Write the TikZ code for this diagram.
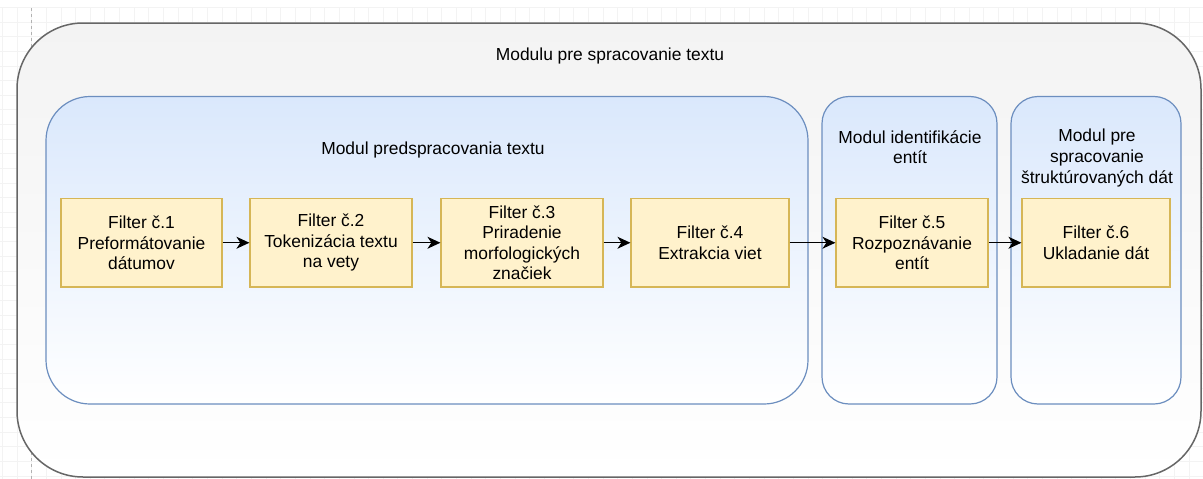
\documentclass[tikz,border=0pt]{standalone}
\usepackage{fontspec}
\setmainfont{Liberation Sans}
\usetikzlibrary{arrows.meta}
\definecolor{outerline}{HTML}{666666}
\definecolor{outerfill}{HTML}{F3F3F3}
\definecolor{modline}{HTML}{6C8EBF}
\definecolor{modfill}{HTML}{DAE8FC}
\definecolor{filtline}{HTML}{D6B656}
\definecolor{filtfill}{HTML}{FFF2CC}
\definecolor{gridline}{HTML}{F3F3F3}
\newcommand{\filternode}[4]{%
  \node[filterbox,minimum width=#3] (#1) at (#2) {#4};
}

\begin{document}
\begin{tikzpicture}[x=1pt,y=-1pt,
  txt/.style={font=\fontsize{17.4}{20.5}\selectfont,align=center,inner sep=0pt},
  filterbox/.style={txt,draw=filtline,fill=filtfill,line width=1.2pt,minimum height=88.5pt},
  modbox/.style={draw=modline,line width=1.2pt,top color=modfill,bottom color=white,minimum height=307.5pt},
  flow/.style={-{Stealth[length=13pt,width=12pt,inset=4pt]},line width=1.1pt}]
  \useasboundingbox (0,0) rectangle (1203,479);
  \fill[white] (0,0) rectangle (1203,479);

  % grid of the editor
  \foreach \gx in {2.3,16.95,...,1203} \draw[gridline,line width=0.8pt] (\gx,8) -- (\gx,479);
  \foreach \gy in {7.3,21.95,...,479} \draw[gridline,line width=0.8pt] (0,\gy) -- (1203,\gy);
  \draw[gray!60,dashed,line width=0.8pt] (31.7,8) -- (31.7,479);

  \node[draw=outerline,line width=1.5pt,top color=outerfill,bottom color=white,
    rounded corners=66pt,minimum width=1184pt,minimum height=454pt] (Outer) at (609,250) {};
  \node[txt] (OuterLbl) at (610,56) {Modulu pre spracovanie textu};

  \node[modbox,rounded corners=44pt,minimum width=762pt] (M1) at (427,250.25) {};
  \node[modbox,rounded corners=27pt,minimum width=175pt] (M2) at (909.5,250.25) {};
  \node[modbox,rounded corners=27pt,minimum width=170pt] (M3) at (1096,250.25) {};

  \node[txt] (M1Lbl) at (433,150) {Modul predspracovania textu};
  \node[txt] (M2Lbl) at (910,147) {Modul identifikácie\\entít};
  \node[txt] (M3Lbl) at (1097,158) {Modul pre\\spracovanie\\štruktúrovaných dát};

  \filternode{F1}{141.5,242.75}{161pt}{Filter č.1\\Preformátovanie\\dátumov}
  \filternode{F2}{331,242.75}{162pt}{Filter č.2\\Tokenizácia textu\\na vety}
  \filternode{F3}{522,242.75}{162pt}{Filter č.3\\Priradenie\\morfologických\\značiek}
  \filternode{F4}{710,242.75}{158pt}{Filter č.4\\Extrakcia viet}
  \filternode{F5}{912,242.75}{152pt}{Filter č.5\\Rozpoznávanie\\entít}
  \filternode{F6}{1096,242.75}{148pt}{Filter č.6\\Ukladanie dát}

  \draw[flow] (F1) -- (F2);
  \draw[flow] (F2) -- (F3);
  \draw[flow] (F3) -- (F4);
  \draw[flow] (F4) -- (F5);
  \draw[flow] (F5) -- (F6);
\end{tikzpicture}
\end{document}
